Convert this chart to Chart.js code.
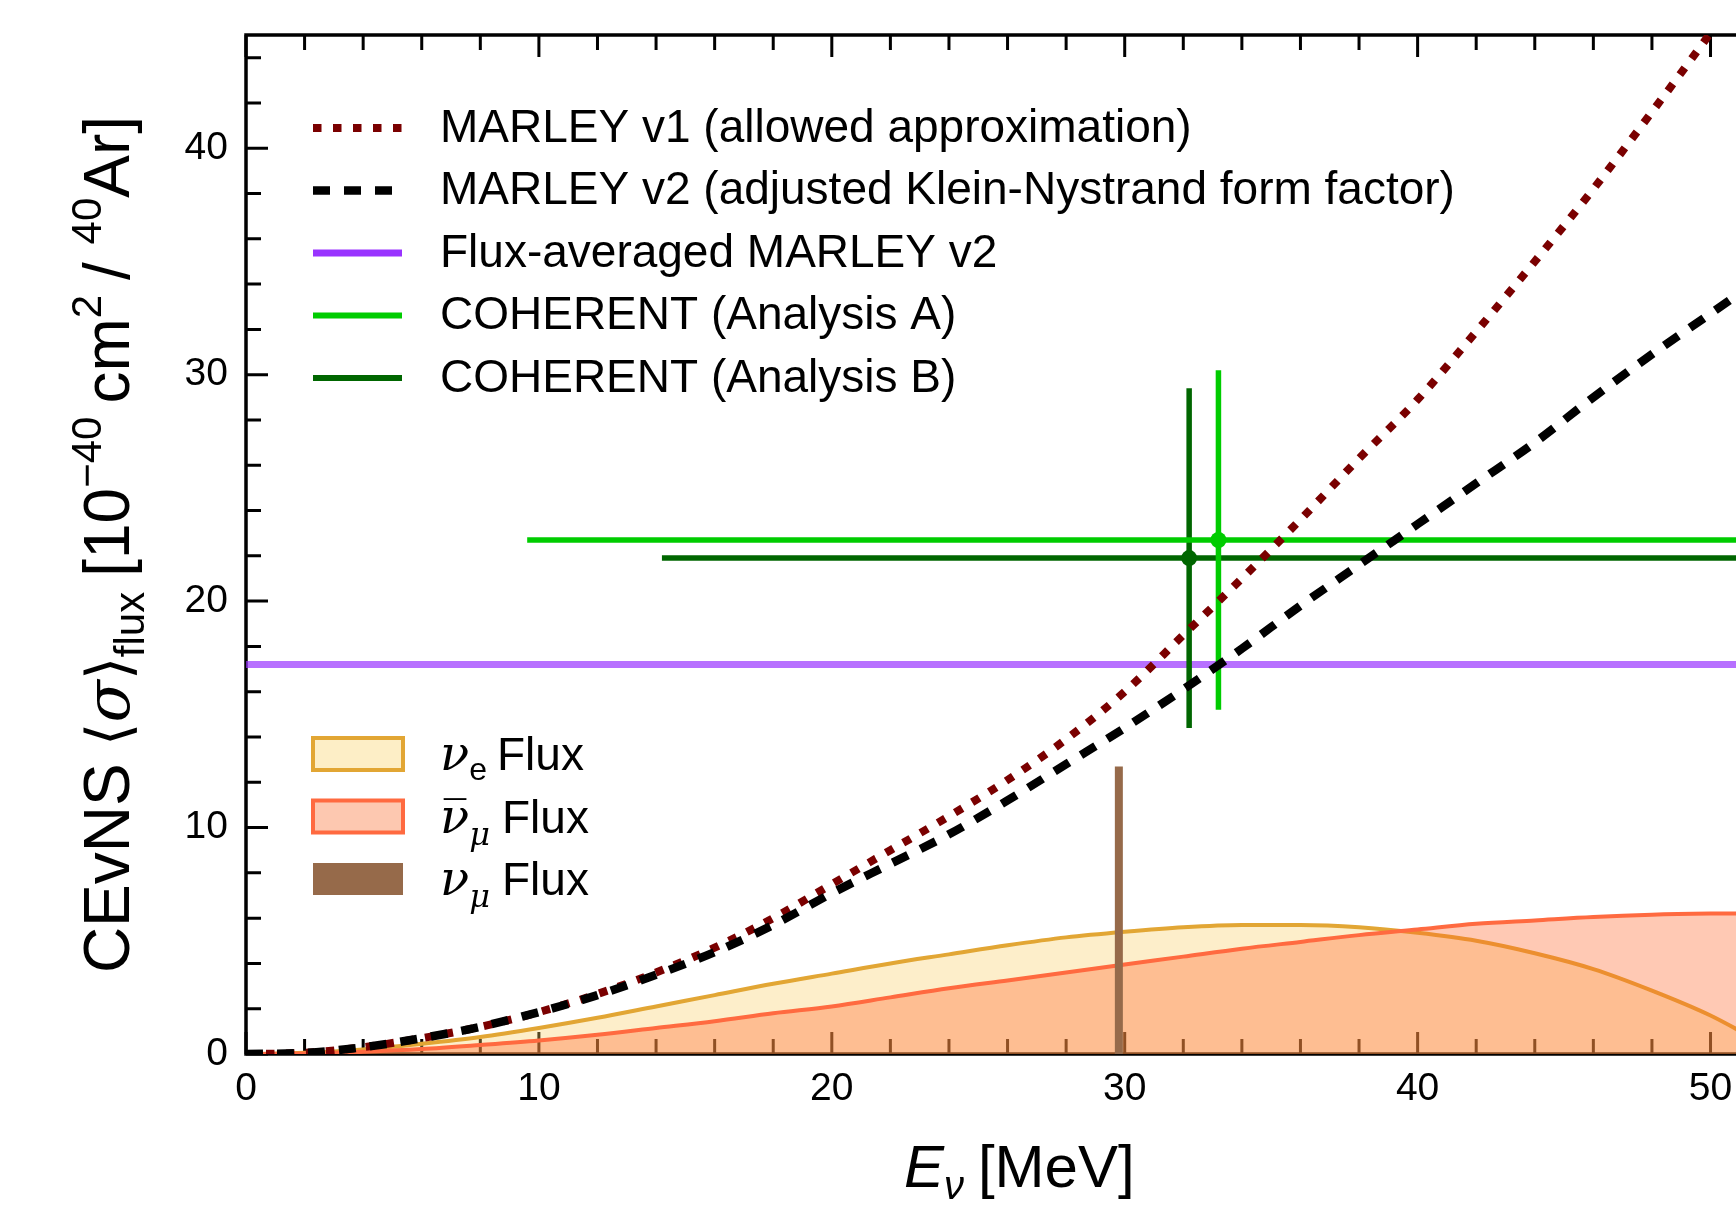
<!DOCTYPE html>
<html lang="en">
  <head>
    <meta charset="UTF-8" />
    <title>CEvNS flux-averaged cross section</title>
    <script src="https://cdn.jsdelivr.net/npm/chart.js"></script>
    <style>
      html, body { margin: 0; padding: 0; background: #fff; overflow: hidden; }
      canvas { display: block; }
    </style>
  </head>
  <body>
    <canvas id="grafico" width="1736" height="1206"></canvas>

    <script>
      // energias (MeV) onde as curvas foram lidas
      const energias = [0, 2, 4, 6, 8, 10, 12, 14, 16, 18, 20, 22, 24, 26, 28, 30, 32, 34, 36, 38, 40, 42, 44, 46, 48, 50, 52]

      // secao de choque (10^-40 cm^2)
      const marleyV1 = [0, 0.05, 0.3, 0.7, 1.2, 1.85, 2.65, 3.6, 4.7, 6.0, 7.5, 9.0, 10.5, 12.1, 13.9, 16.0, 18.5, 21.0, 23.6, 26.3, 28.9, 31.9, 35.0, 38.2, 41.6, 45.1, 48.8]
      const marleyV2 = [0, 0.05, 0.3, 0.7, 1.2, 1.85, 2.6, 3.5, 4.5, 5.7, 7.1, 8.4, 9.7, 11.2, 12.8, 14.4, 16.1, 17.9, 19.8, 21.6, 23.4, 25.2, 27.0, 29.0, 30.9, 32.7, 34.5]

      // fluxos (unidades arbitrarias)
      const fluxoNuE = [0, 0.05, 0.2, 0.45, 0.75, 1.15, 1.6, 2.1, 2.6, 3.1, 3.55, 4.0, 4.4, 4.8, 5.15, 5.4, 5.6, 5.7, 5.7, 5.6, 5.35, 5.0, 4.45, 3.75, 2.8, 1.7, 0.3]
      const fluxoNuMuBar = [0, 0.02, 0.1, 0.22, 0.4, 0.6, 0.85, 1.15, 1.45, 1.8, 2.1, 2.5, 2.9, 3.25, 3.6, 3.95, 4.3, 4.65, 4.95, 5.25, 5.5, 5.75, 5.9, 6.05, 6.15, 6.2, 6.22]
      const fluxoNuMuE = 29.8
      const fluxoNuMuAltura = 12.7

      // media no fluxo (MARLEY v2)
      const mediaFluxo = 17.2

      // COHERENT: [Analise A, Analise B]
      const cohE = [33.2, 32.2]
      const cohSigma = [22.7, 21.9]
      const cohEMin = [9.6, 14.2]
      const cohEMax = [60, 60]
      const cohSigmaMin = [15.2, 14.4]
      const cohSigmaMax = [30.2, 29.4]

      // eixos
      const xMax = 50.87
      const yMax = 45
      const xTicks = [0, 10, 20, 30, 40, 50]
      const yTicks = [0, 10, 20, 30, 40]

      const legendaLinhas = [
        "MARLEY v1 (allowed approximation)",
        "MARLEY v2 (adjusted Klein-Nystrand form factor)",
        "Flux-averaged MARLEY v2",
        "COHERENT (Analysis A)",
        "COHERENT (Analysis B)",
      ]

      function pontos(ys) {
        return energias.map(function (e, i) { return { x: e, y: ys[i] } })
      }

      const corV1 = "#7a0000"
      const corRoxo = "#9933ff"
      const corVerdeA = "#00cc00"
      const corVerdeB = "#006600"
      const corNuE = "#e2a634"
      const corNuMuBar = "#ff6a40"
      const corNuMu = "#966a4a"

      const SANS = '"Liberation Sans", Arial, sans-serif'
      const SERIF = '"DejaVu Serif", "Liberation Serif", serif'

      // desenha texto com partes de fontes diferentes (sub/sobrescritos)
      function textoRico(ctx, partes, x, y, medir) {
        let largura = 0
        for (let i = 0; i < partes.length; i++) {
          ctx.font = partes[i].f
          largura += ctx.measureText(partes[i].t).width + (partes[i].dx || 0)
        }
        if (medir) return largura
        let cx = x
        for (let i = 0; i < partes.length; i++) {
          const p = partes[i]
          ctx.font = p.f
          ctx.fillText(p.t, cx, y + (p.dy || 0))
          cx += ctx.measureText(p.t).width + (p.dx || 0)
        }
        return largura
      }

      const moldura = {
        id: "moldura",
        beforeDatasetsDraw(chart) {
          const ctx = chart.ctx
          const a = chart.chartArea
          const sx = chart.scales.x
          const sy = chart.scales.y
          ctx.save()
          ctx.strokeStyle = "#000"
          ctx.lineWidth = 3
          ctx.beginPath()
          for (let v = 0; v <= xMax; v += 2) {
            const px = sx.getPixelForValue(v)
            const len = v % 10 === 0 ? 22 : 15
            ctx.moveTo(px, a.bottom); ctx.lineTo(px, a.bottom - len)
            ctx.moveTo(px, a.top); ctx.lineTo(px, a.top + len)
          }
          for (let v = 0; v < yMax; v += 2) {
            const py = sy.getPixelForValue(v)
            const len = v % 10 === 0 ? 22 : 15
            ctx.moveTo(a.left, py); ctx.lineTo(a.left + len, py)
          }
          ctx.stroke()
          ctx.lineWidth = 3.5
          ctx.beginPath()
          ctx.moveTo(a.right + 5, a.top)
          ctx.lineTo(a.left, a.top)
          ctx.lineTo(a.left, a.bottom)
          ctx.lineTo(a.right + 5, a.bottom)
          ctx.stroke()
          ctx.restore()
        },
        afterDraw(chart) {
          const ctx = chart.ctx
          const a = chart.chartArea
          const sx = chart.scales.x
          const sy = chart.scales.y
          ctx.save()
          ctx.fillStyle = "#000"

          // rotulos dos ticks
          ctx.font = "39px " + SANS
          ctx.textAlign = "center"
          ctx.textBaseline = "middle"
          xTicks.forEach(function (v) {
            ctx.fillText(String(v), sx.getPixelForValue(v), a.bottom + 35)
          })
          ctx.textAlign = "right"
          yTicks.forEach(function (v) {
            ctx.fillText(String(v), a.left - 18, sy.getPixelForValue(v))
          })

          // titulo do eixo x
          ctx.textAlign = "left"
          ctx.textBaseline = "alphabetic"
          const tituloX = [
            { t: "E", f: "italic 60px " + SANS },
            { t: "ν", f: "italic 40px " + SANS, dy: 12, dx: 14 },
            { t: "[MeV]", f: "60px " + SANS },
          ]
          const wx = textoRico(ctx, tituloX, 0, 0, true)
          textoRico(ctx, tituloX, sx.getPixelForValue(26.4) - wx / 2, a.bottom + 133)

          // titulo do eixo y
          const tituloY = [
            { t: "CEvNS ", f: "64px " + SANS },
            { t: "⟨", f: "60px " + SANS },
            { t: "σ", f: "italic 62px " + SERIF },
            { t: "⟩", f: "60px " + SANS },
            { t: "flux", f: "42px " + SANS, dy: 15, dx: 15 },
            { t: "[10", f: "64px " + SANS },
            { t: "−40", f: "42px " + SANS, dy: -28, dx: 13 },
            { t: "cm", f: "64px " + SANS },
            { t: "2", f: "42px " + SANS, dy: -28, dx: 15 },
            { t: "/ ", f: "64px " + SANS },
            { t: "40", f: "42px " + SANS, dy: -28 },
            { t: "Ar]", f: "64px " + SANS },
          ]
          const wy = textoRico(ctx, tituloY, 0, 0, true)
          ctx.save()
          ctx.translate(129, (a.top + a.bottom) / 2)
          ctx.rotate(-Math.PI / 2)
          textoRico(ctx, tituloY, -wy / 2, 0)
          ctx.restore()

          // legenda das curvas
          const estilos = [
            { c: corV1, w: 8, d: [8.5, 11.5] },
            { c: "#000", w: 8.5, d: [17, 14] },
            { c: corRoxo, w: 7, d: [] },
            { c: corVerdeA, w: 6, d: [] },
            { c: corVerdeB, w: 6, d: [] },
          ]
          for (let i = 0; i < legendaLinhas.length; i++) {
            const y = 128 + i * 62.5
            ctx.strokeStyle = estilos[i].c
            ctx.lineWidth = estilos[i].w
            ctx.setLineDash(estilos[i].d)
            ctx.beginPath()
            ctx.moveTo(313, y)
            ctx.lineTo(402, y)
            ctx.stroke()
            ctx.setLineDash([])
            ctx.font = "46px " + SANS
            ctx.textBaseline = "middle"
            ctx.fillText(legendaLinhas[i], 440, y + 1)
          }

          // legenda dos fluxos
          const caixas = [
            { borda: corNuE, fundo: "#fdeec6" },
            { borda: corNuMuBar, fundo: "#fdc8b0" },
            { borda: corNuMu, fundo: corNuMu },
          ]
          const textosFluxo = [
            [
              { t: "ν", f: "italic 48px " + SERIF },
              { t: "e", f: "32px " + SANS, dy: 10, dx: 10 },
              { t: "Flux", f: "46px " + SANS },
            ],
            [
              { t: "ν", f: "italic 48px " + SERIF },
              { t: "μ", f: "italic 32px " + SERIF, dy: 12, dx: 12 },
              { t: "Flux", f: "46px " + SANS },
            ],
            [
              { t: "ν", f: "italic 48px " + SERIF },
              { t: "μ", f: "italic 32px " + SERIF, dy: 12, dx: 12 },
              { t: "Flux", f: "46px " + SANS },
            ],
          ]
          for (let i = 0; i < 3; i++) {
            const yc = 754 + i * 62.5
            ctx.fillStyle = caixas[i].fundo
            ctx.fillRect(313, yc - 16, 90, 32)
            if (i < 2) {
              ctx.strokeStyle = caixas[i].borda
              ctx.lineWidth = 4
              ctx.strokeRect(313, yc - 16, 90, 32)
            }
            ctx.fillStyle = "#000"
            ctx.textBaseline = "alphabetic"
            textoRico(ctx, textosFluxo[i], 440, yc + 16)
            if (i === 1) {
              // barra do antineutrino
              ctx.font = "bold 40px " + SANS
              ctx.fillText("¯", 444, yc + 12)
            }
          }
          ctx.restore()
        },
      }

      new Chart(document.getElementById("grafico").getContext("2d"), {
        type: "line",
        data: {
          datasets: [
            {
              label: legendaLinhas[1],
              data: pontos(marleyV2),
              borderColor: "#000",
              borderWidth: 8.5,
              borderDash: [17, 14],
              pointRadius: 0,
              cubicInterpolationMode: "monotone",
              order: 0,
            },
            {
              label: legendaLinhas[0],
              data: pontos(marleyV1),
              borderColor: corV1,
              borderWidth: 8,
              borderDash: [8.5, 11.5],
              pointRadius: 0,
              cubicInterpolationMode: "monotone",
              order: 1,
            },
            {
              label: "A horizontal",
              data: [{ x: cohEMin[0], y: cohSigma[0] }, { x: cohEMax[0], y: cohSigma[0] }],
              borderColor: corVerdeA, borderWidth: 5.5, pointRadius: 0, order: 2,
            },
            {
              label: "A vertical",
              data: [{ x: cohE[0], y: cohSigmaMin[0] }, { x: cohE[0], y: cohSigmaMax[0] }],
              borderColor: corVerdeA, borderWidth: 5.5, pointRadius: 0, order: 2,
            },
            {
              label: legendaLinhas[3],
              data: [{ x: cohE[0], y: cohSigma[0] }],
              showLine: false, pointRadius: 8, pointBackgroundColor: corVerdeA,
              pointBorderWidth: 0, borderColor: corVerdeA, order: 2,
            },
            {
              label: "B horizontal",
              data: [{ x: cohEMin[1], y: cohSigma[1] }, { x: cohEMax[1], y: cohSigma[1] }],
              borderColor: corVerdeB, borderWidth: 5.5, pointRadius: 0, order: 3,
            },
            {
              label: "B vertical",
              data: [{ x: cohE[1], y: cohSigmaMin[1] }, { x: cohE[1], y: cohSigmaMax[1] }],
              borderColor: corVerdeB, borderWidth: 5.5, pointRadius: 0, order: 3,
            },
            {
              label: legendaLinhas[4],
              data: [{ x: cohE[1], y: cohSigma[1] }],
              showLine: false, pointRadius: 8, pointBackgroundColor: corVerdeB,
              pointBorderWidth: 0, borderColor: corVerdeB, order: 3,
            },
            {
              label: legendaLinhas[2],
              data: [{ x: 0, y: mediaFluxo }, { x: 60, y: mediaFluxo }],
              borderColor: "rgba(153, 51, 255, 0.7)",
              borderWidth: 7, pointRadius: 0, order: 4,
            },
            {
              label: "νμ Flux",
              data: [{ x: fluxoNuMuE, y: 0 }, { x: fluxoNuMuE, y: fluxoNuMuAltura }],
              borderColor: corNuMu, borderWidth: 8, pointRadius: 0, order: 5,
            },
            {
              label: "ν̄μ Flux",
              data: pontos(fluxoNuMuBar),
              borderColor: corNuMuBar,
              backgroundColor: "rgba(255, 100, 40, 0.35)",
              borderWidth: 4, fill: "origin", pointRadius: 0,
              cubicInterpolationMode: "monotone", order: 6,
            },
            {
              label: "νe Flux",
              data: pontos(fluxoNuE),
              borderColor: corNuE,
              backgroundColor: "rgba(250, 205, 100, 0.34)",
              borderWidth: 4, fill: "origin", pointRadius: 0,
              cubicInterpolationMode: "monotone", order: 7,
            },
          ],
        },
        options: {
          responsive: false,
          animation: false,
          devicePixelRatio: 1,
          layout: { autoPadding: false, padding: { left: 246, top: 35, right: 0, bottom: 152 } },
          scales: {
            x: { type: "linear", min: 0, max: xMax, display: false },
            y: { type: "linear", min: 0, max: yMax, display: false },
          },
          plugins: {
            legend: { display: false },
            tooltip: { enabled: false },
          },
        },
        plugins: [moldura],
      })
    </script>
  </body>
</html>
